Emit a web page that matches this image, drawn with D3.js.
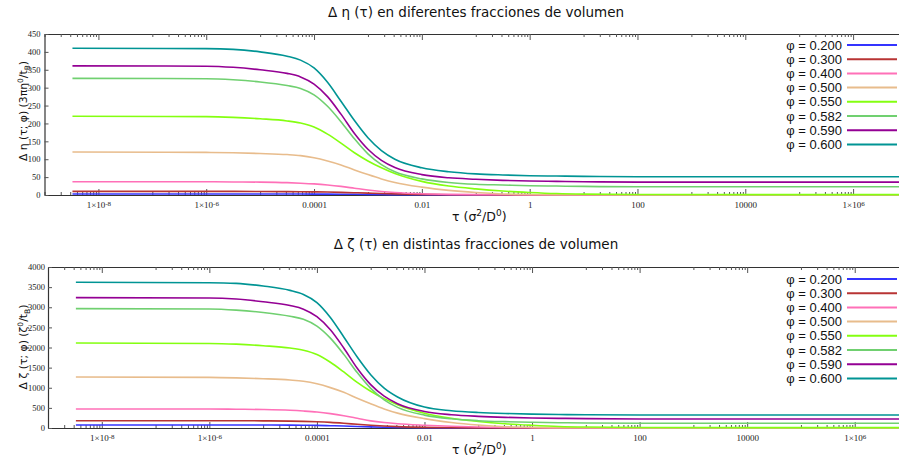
<!DOCTYPE html>
<html>
<head>
<meta charset="utf-8">
<script src="https://cdn.jsdelivr.net/npm/d3@7"></script>
<style>
  html, body { margin: 0; padding: 0; background: #fff; }
  svg { display: block; }
  .tick text { font-family: "Liberation Serif", serif; fill: #222; }
  .title, .axlabel { font-family: "DejaVu Sans", sans-serif; fill: #111; }
  .legend text { font-family: "Liberation Sans", Arial, sans-serif; fill: #111; }
</style>
</head>
<body>
<svg id="chart" width="899" height="462"></svg>
<script>
// Correlation time grid (τ in units of σ²/D⁰)
const tau = [3.3e-9, 1e-6, 3.16e-6, 1e-5, 3.16e-5, 5.62e-5, 1e-4, 1.78e-4, 3.16e-4, 5.62e-4,
             1e-3, 1.78e-3, 3.16e-3, 1e-2, 3.16e-2, 0.1, 0.316, 1, 3.16, 10, 100, 1e7];

// Volume fractions and their line colours
const phis = ["0.200", "0.300", "0.400", "0.500", "0.550", "0.582", "0.590", "0.600"];
const colors = ["#3434ff", "#b83434", "#ff70b8", "#e8bc8c", "#84ff10", "#70d070", "#940094", "#009494"];

// Δη(τ; φ) in units of 3πη⁰/t_B
const etaPhi200 = [2.8, 2.8, 2.8, 2.75, 2.7, 2.6, 2.5, 2.35, 2.15, 1.9, 1.6, 1.3, 1.0, 0.5, 0.25, 0.12, 0.06, 0.03, 0.02, 0.01, 0, 0];
const etaPhi300 = [10, 10, 10, 9.8, 9.5, 9.2, 8.8, 8.2, 7.4, 6.4, 5.3, 4.2, 3.2, 1.7, 0.9, 0.5, 0.3, 0.2, 0.1, 0.1, 0.1, 0.1];
const etaPhi400 = [37, 37, 36.5, 36, 34.5, 33, 31, 28, 24, 19, 14, 10, 7, 3.5, 1.8, 1, 0.6, 0.4, 0.3, 0.2, 0.2, 0.2];
const etaPhi500 = [120, 119, 118, 116, 113, 110, 104, 95, 84, 70, 57, 45, 35, 22, 13, 7, 3, 1.5, 0.8, 0.5, 0.3, 0.3];
const etaPhi550 = [220, 219, 217, 213, 207, 201, 190, 170, 145, 118, 95, 76, 60, 38, 25, 17, 11, 7, 4, 2.5, 1.5, 1];
const etaPhi582 = [326, 325, 322, 316, 306, 298, 280, 248, 205, 157, 115, 85, 65, 45, 35, 30, 28, 26, 25, 24, 23, 23];
const etaPhi590 = [361, 360, 357, 350, 340, 330, 310, 275, 226, 172, 128, 97, 77, 57, 48, 44, 41, 39, 38, 37, 36, 36];
const etaPhi600 = [410, 409, 407, 400, 388, 377, 355, 315, 262, 208, 160, 124, 100, 76, 65, 59, 56, 54, 53, 52, 51, 51];

// Δζ(τ; φ) in units of ζ⁰/t_B
const zetaPhi200 = [75, 75, 75, 74, 72, 70, 64, 57, 48, 38, 28, 20, 14, 6, 3, 2, 1, 1, 0.5, 0.5, 0, 0];
const zetaPhi300 = [182, 182, 181, 178, 172, 165, 155, 140, 118, 92, 68, 48, 33, 15, 7, 4, 3, 2, 2, 2, 2, 2];
const zetaPhi400 = [472, 472, 466, 459, 440, 421, 396, 357, 306, 243, 178, 135, 105, 70, 45, 25, 12, 6, 4, 3, 2, 2];
const zetaPhi500 = [1267, 1257, 1245, 1225, 1193, 1162, 1098, 1003, 887, 739, 602, 475, 370, 232, 137, 73, 32, 16, 9, 6, 4, 4];
const zetaPhi550 = [2112, 2101, 2083, 2044, 1987, 1930, 1825, 1633, 1392, 1132, 912, 729, 577, 365, 241, 163, 106, 68, 38, 23, 12, 8];
const zetaPhi582 = [2965, 2956, 2928, 2871, 2777, 2703, 2532, 2233, 1829, 1376, 983, 701, 513, 320, 228, 182, 158, 143, 132, 125, 118, 117];
const zetaPhi590 = [3240, 3231, 3204, 3137, 3044, 2953, 2766, 2441, 1988, 1485, 1078, 791, 604, 410, 330, 290, 265, 250, 240, 233, 225, 224];
const zetaPhi600 = [3620, 3610, 3594, 3528, 3419, 3317, 3115, 2746, 2262, 1764, 1325, 992, 771, 520, 430, 385, 360, 345, 335, 330, 324, 323];

const etaSeries = [etaPhi200, etaPhi300, etaPhi400, etaPhi500, etaPhi550, etaPhi582, etaPhi590, etaPhi600];
const zetaSeries = [zetaPhi200, zetaPhi300, zetaPhi400, zetaPhi500, zetaPhi550, zetaPhi582, zetaPhi590, zetaPhi600];

// Axis ticks
const xMajorExp = [-8, -6, -4, -2, 0, 2, 4, 6];
const xMajorLabels = ["1×10|-8", "1×10|-6", "0.0001", "0.01", "1", "100", "10000", "1×10|6"];
const etaTicks = [0, 50, 100, 150, 200, 250, 300, 350, 400, 450];
const zetaTicks = [0, 500, 1000, 1500, 2000, 2500, 3000, 3500, 4000];

const svg = d3.select("#chart");

function panel(cfg) {
  const g = svg.append("g");
  const x = d3.scaleLog().domain([1e-9, 1e7]).range([cfg.left, cfg.right]);
  const y = d3.scaleLinear().domain([0, cfg.yMax]).range([cfg.bottom, cfg.top]);

  const majors = xMajorExp.map(e => Math.pow(10, e));
  const minors = [];
  for (let e = -9; e <= 7; e += 2) for (let m = 1; m <= 9; m++) {
    const v = m * Math.pow(10, e);
    if (v >= 1e-9 && v <= 1e7) minors.push(v);
  }

  // bottom axis: major ticks with labels
  const xb = g.append("g").attr("transform", `translate(0,${cfg.bottom})`)
    .call(d3.axisBottom(x).tickValues(majors).tickSizeInner(-6).tickSizeOuter(0).tickPadding(7)
      .tickFormat((d, i) => xMajorLabels[i]));
  xb.selectAll(".tick text").attr("font-size", 9).each(function(d, i) {
    const parts = xMajorLabels[i].split("|");
    const t = d3.select(this).text(parts[0]);
    if (parts.length > 1) {
      t.append("tspan").attr("dy", "-0.4em").attr("font-size", 7).text(parts[1]);
    }
  });
  // bottom minor ticks
  g.append("g").attr("transform", `translate(0,${cfg.bottom})`)
    .call(d3.axisBottom(x).tickValues(minors).tickSizeInner(-3).tickSizeOuter(0).tickFormat(""))
    .call(s => s.select(".domain").remove());

  // top border with mirrored ticks
  g.append("g").attr("transform", `translate(0,${cfg.top})`)
    .call(d3.axisTop(x).tickValues(majors).tickSizeInner(-6).tickSizeOuter(0).tickFormat(""));
  g.append("g").attr("transform", `translate(0,${cfg.top})`)
    .call(d3.axisTop(x).tickValues(minors).tickSizeInner(-3).tickSizeOuter(0).tickFormat(""))
    .call(s => s.select(".domain").remove());

  // left axis
  const yl = g.append("g").attr("transform", `translate(${cfg.left},0)`)
    .call(d3.axisLeft(y).tickValues(cfg.yTicks).tickSizeInner(-4).tickSizeOuter(0)
      .tickPadding(cfg.yPad).tickFormat(d3.format("d")));
  yl.selectAll(".tick text").attr("font-size", 8.5);

  g.selectAll(".domain").attr("stroke", "#333").attr("stroke-width", 1.2);
  g.selectAll(".tick line").attr("stroke", "#555");

  // curves
  const line = d3.line().x((d, i) => x(tau[i])).y(d => y(d)).curve(d3.curveMonotoneX);
  g.append("g").selectAll("path").data(cfg.series).join("path")
    .attr("d", line).attr("fill", "none")
    .attr("stroke", (d, i) => colors[i]).attr("stroke-width", 1.6);

  // legend
  const lg = g.append("g").attr("class", "legend");
  const rows = lg.selectAll("g").data(phis).join("g")
    .attr("transform", (d, i) => `translate(0,${cfg.legendTop + i * 14.2})`);
  rows.append("text").attr("x", 842).attr("y", 0).attr("dy", "0.35em")
    .attr("text-anchor", "end").attr("font-size", 13).text(d => `φ = ${d}`);
  rows.append("line").attr("x1", 847).attr("x2", 897).attr("y1", 0).attr("y2", 0)
    .attr("stroke", (d, i) => colors[i]).attr("stroke-width", 2);

  // titles
  g.append("text").attr("class", "title").attr("x", 476).attr("y", cfg.titleY)
    .attr("text-anchor", "middle").attr("font-size", 13.5).text(cfg.title);
  const xl = g.append("text").attr("class", "axlabel").attr("x", 452).attr("y", cfg.xLabelY).attr("font-size", 12.5);
  xl.append("tspan").text("τ (σ");
  xl.append("tspan").attr("dy", -5).attr("font-size", 9).text("2");
  xl.append("tspan").attr("dy", 5).text("/D");
  xl.append("tspan").attr("dy", -5).attr("font-size", 9).text("0");
  xl.append("tspan").attr("dy", 5).text(")");

  const yt = g.append("text").attr("class", "axlabel")
    .attr("transform", `translate(${cfg.yLabelX},${cfg.yLabelY}) rotate(-90)`)
    .attr("text-anchor", "middle").attr("font-size", 10.8);
  cfg.yLabel.forEach(p => {
    const ts = yt.append("tspan").text(p.t);
    if (p.size) ts.attr("font-size", p.size);
    if (p.dy) ts.attr("dy", p.dy);
  });
}

panel({
  left: 44.5, right: 907, top: 34, bottom: 195, yMax: 450, yTicks: etaTicks, yPad: 4,
  series: etaSeries, legendTop: 45, titleY: 17, xLabelY: 221,
  title: "Δ η (τ) en diferentes fracciones de volumen",
  yLabelX: 27, yLabelY: 111,
  yLabel: [{t: "Δ η (τ; φ) (3πη"}, {t: "0", size: 7.5, dy: -4}, {t: "/t", dy: 4},
           {t: "B", size: 7.5, dy: 2.5}, {t: ")", dy: -2.5}]
});

panel({
  left: 48, right: 908.5, top: 267, bottom: 428, yMax: 4000, yTicks: zetaTicks, yPad: 3,
  series: zetaSeries, legendTop: 279, titleY: 249, xLabelY: 454,
  title: "Δ ζ (τ) en distintas fracciones de volumen",
  yLabelX: 27, yLabelY: 347,
  yLabel: [{t: "Δ ζ (τ; φ) (ζ"}, {t: "0", size: 7.5, dy: -4}, {t: "/t", dy: 4},
           {t: "B", size: 7.5, dy: 2.5}, {t: ")", dy: -2.5}]
});
</script>
</body>
</html>
